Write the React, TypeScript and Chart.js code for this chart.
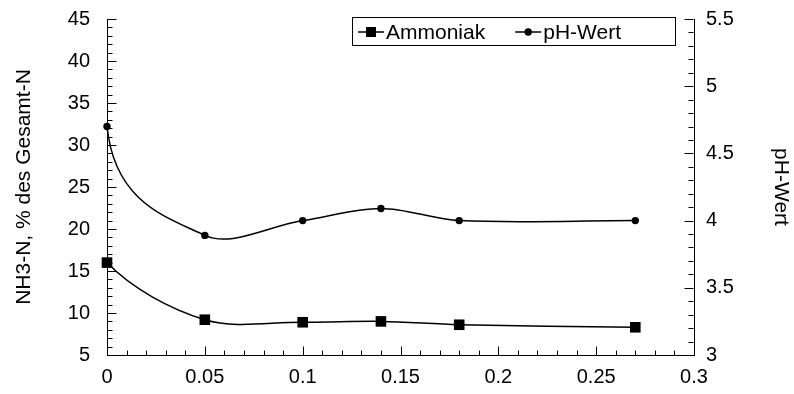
import React, { useEffect, useRef } from 'react';
import { Chart, registerables } from 'chart.js';

Chart.register(...registerables);

// Dosage on the x axis and the two measured series
const doseValues = [0, 0.05, 0.1, 0.14, 0.18, 0.27];
const ammoniakValues = [16.0, 9.2, 8.9, 9.0, 8.6, 8.3];
const phValues = [4.7, 3.89, 4.0, 4.09, 4.0, 4.0];

// Tick labels of the three axes
const xTicks = [0, 0.05, 0.1, 0.15, 0.2, 0.25, 0.3];
const leftTicks = [5, 10, 15, 20, 25, 30, 35, 40, 45];
const rightTicks = [3, 3.5, 4, 4.5, 5, 5.5];

const seriesNames = ['Ammoniak', 'pH-Wert'];
const leftTitle = 'NH3-N, % des Gesamt-N';
const rightTitle = 'pH-Wert';

const FONT = "'Liberation Sans', Arial, Helvetica, sans-serif";

// Inward-pointing major and minor tick marks
const innerTicks = {
  id: 'innerTicks',
  afterDraw(chart: any) {
    const { ctx, chartArea, scales } = chart;
    ctx.save();
    ctx.strokeStyle = '#000';
    ctx.lineWidth = 1;
    const draw = (scale: any, minor: number, majors: number[], side: string) => {
      const n = Math.round((scale.max - scale.min) / minor);
      for (let i = 0; i <= n; i++) {
        const v = scale.min + i * minor;
        const isMajor = majors.some((m) => Math.abs(m - v) < minor / 10);
        const len = isMajor ? 9 : 5;
        const p = Math.round(scale.getPixelForValue(v)) + 0.5;
        ctx.beginPath();
        if (side === 'bottom') {
          const y0 = Math.round(chartArea.bottom) + 0.5;
          ctx.moveTo(p, y0);
          ctx.lineTo(p, y0 - len);
        } else if (side === 'left') {
          const x0 = Math.round(chartArea.left) + 0.5;
          ctx.moveTo(x0, p);
          ctx.lineTo(x0 + len, p);
        } else {
          const x0 = Math.round(chartArea.right) - 0.5;
          ctx.moveTo(x0, p);
          ctx.lineTo(x0 - len, p);
        }
        ctx.stroke();
      }
    };
    draw(scales.x, 0.01, xTicks, 'bottom');
    draw(scales.y, 1, leftTicks, 'left');
    draw(scales.y1, 0.1, rightTicks, 'right');
    ctx.restore();
  },
};

// Reshape the outgoing handle of the first point so each curve leaves
// its first point more steeply before easing out
const startHandle = {
  id: 'startHandle',
  beforeDatasetDraw(chart: any, args: any) {
    const meta = args.meta;
    const ds = chart.data.datasets[args.index];
    const bend = ds.startBend;
    if (!bend || !meta.dataset || meta.data.length < 2) return;
    meta.dataset.updateControlPoints(chart.chartArea, 'x');
    const p0 = meta.data[0];
    const p1 = meta.data[1];
    p0.cp2x = p0.x + (p1.x - p0.x) * bend[0];
    p0.cp2y = p0.y + (p1.y - p0.y) * bend[1];
    meta.dataset._path = undefined;
  },
};

// Boxed legend inside the plot area, top right
const boxedLegend = {
  id: 'boxedLegend',
  afterDraw(chart: any) {
    const { ctx, chartArea } = chart;
    const right = chartArea.right - 19;
    const left = right - 323;
    const top = chartArea.top - 2;
    const h = 28;
    ctx.save();
    ctx.strokeStyle = '#000';
    ctx.lineWidth = 1;
    ctx.strokeRect(Math.round(left) + 0.5, Math.round(top) + 0.5, 323, h);
    ctx.font = `21px ${FONT}`;
    ctx.fillStyle = '#000';
    ctx.textBaseline = 'alphabetic';
    const cy = top + 15;
    let x = left + 6;
    chart.data.datasets.forEach((ds: any) => {
      ctx.beginPath();
      ctx.lineWidth = 1.5;
      ctx.moveTo(x, cy);
      ctx.lineTo(x + 26, cy);
      ctx.stroke();
      const mx = x + 13;
      if (ds.pointStyle === 'rect') {
        ctx.fillRect(mx - 5, cy - 5, 10, 10);
      } else {
        ctx.beginPath();
        ctx.arc(mx, cy, 3.7, 0, Math.PI * 2);
        ctx.fill();
      }
      ctx.fillText(ds.label, x + 28, top + 22);
      x += 28 + ctx.measureText(ds.label).width + 30;
    });
    ctx.restore();
  },
};

const noYPad = (width: number) => (scale: any) => {
  scale.width = width;
  scale.paddingTop = 0;
  scale.paddingBottom = 0;
};

export default function App() {
  const canvasRef = useRef<HTMLCanvasElement | null>(null);

  useEffect(() => {
    if (!canvasRef.current) return;
    Chart.defaults.font.family = FONT;
    Chart.defaults.color = '#000';

    const chart = new Chart(canvasRef.current, {
      type: 'line',
      data: {
        datasets: [
          {
            label: seriesNames[0],
            data: doseValues.map((x, i) => ({ x, y: ammoniakValues[i] })),
            yAxisID: 'y',
            borderColor: '#000',
            backgroundColor: '#000',
            borderWidth: 1.5,
            pointStyle: 'rect',
            pointRadius: 7.5,
            pointBorderWidth: 0,
            tension: 0.33,
            clip: false as any,
            startBend: [0.25, 0.45],
          } as any,
          {
            label: seriesNames[1],
            data: doseValues.map((x, i) => ({ x, y: phValues[i] })),
            yAxisID: 'y1',
            borderColor: '#000',
            backgroundColor: '#000',
            borderWidth: 1.5,
            pointStyle: 'circle',
            pointRadius: 3.7,
            pointBorderWidth: 0,
            tension: 0.33,
            clip: false as any,
            startBend: [0.08, 0.7],
          } as any,
        ],
      },
      options: {
        responsive: false,
        animation: false,
        layout: { padding: { top: 19, left: 0, right: 0, bottom: 0 } },
        plugins: {
          legend: { display: false },
          tooltip: { enabled: false },
        },
        scales: {
          x: {
            type: 'linear',
            min: 0,
            max: 0.3,
            grid: { display: false, drawTicks: false },
            border: { display: true, color: '#000', width: 1 },
            afterBuildTicks: (scale: any) => {
              scale.ticks = xTicks.map((value) => ({ value }));
            },
            afterFit: (scale: any) => {
              scale.height = 39;
              scale.paddingLeft = 0;
              scale.paddingRight = 0;
            },
            ticks: {
              font: { size: 20 },
              color: '#000',
              padding: 10,
              maxRotation: 0,
              autoSkip: false,
              callback: (v: any) => String(v),
            },
          },
          y: {
            type: 'linear',
            position: 'left',
            min: 5,
            max: 45,
            grid: { display: false, drawTicks: false },
            border: { display: true, color: '#000', width: 1 },
            afterBuildTicks: (scale: any) => {
              scale.ticks = leftTicks.map((value) => ({ value }));
            },
            afterFit: noYPad(107),
            ticks: {
              font: { size: 20 },
              color: '#000',
              padding: 17,
              autoSkip: false,
              callback: (v: any) => String(v),
            },
            title: {
              display: true,
              text: leftTitle,
              font: { size: 21 },
              color: '#000',
              padding: { top: 12, bottom: 0 },
            },
          },
          y1: {
            type: 'linear',
            position: 'right',
            min: 3,
            max: 5.5,
            grid: { display: false, drawTicks: false },
            border: { display: true, color: '#000', width: 1 },
            afterBuildTicks: (scale: any) => {
              scale.ticks = rightTicks.map((value) => ({ value }));
            },
            afterFit: noYPad(100),
            ticks: {
              font: { size: 20 },
              color: '#000',
              padding: 12,
              autoSkip: false,
              callback: (v: any) => String(v),
            },
            title: {
              display: true,
              text: rightTitle,
              font: { size: 21 },
              color: '#000',
              padding: { top: 1, bottom: 0 },
            },
          },
        },
      },
      plugins: [innerTicks, startHandle, boxedLegend],
    });

    return () => chart.destroy();
  }, []);

  return (
    <div style={{ position: 'absolute', left: 0, top: 0, width: 794, height: 394, background: '#fff' }}>
      <canvas ref={canvasRef} width={794} height={394} />
    </div>
  );
}
